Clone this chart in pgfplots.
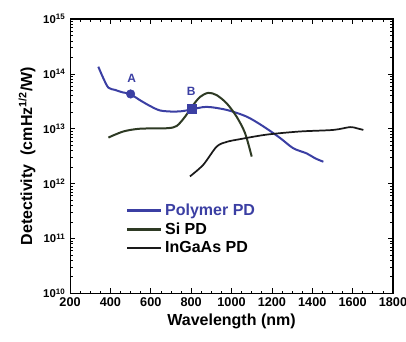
\documentclass[border=0pt]{standalone}
\usepackage{pgfplots}
\pgfplotsset{compat=1.18}
\usepackage{fontspec}
\setmainfont{Liberation Sans}
\definecolor{polyblue}{HTML}{3B3FA3}
\definecolor{sigreen}{HTML}{2E3A24}
\definecolor{ingaas}{HTML}{1A1A1A}
\begin{document}
\begin{tikzpicture}
\begin{axis}[
  scale only axis,
  width=242pt, height=205.5pt,
  ymode=log,
  xmin=200, xmax=1800, ymin=1e10, ymax=1e15,
  xtick={200,400,...,1800},
  minor x tick num=3,
  ytick={1e10,1e11,1e12,1e13,1e14,1e15},
  yticklabels={10\textsuperscript{10},10\textsuperscript{11},10\textsuperscript{12},10\textsuperscript{13},10\textsuperscript{14},10\textsuperscript{15}},
  tick align=inside,
  tick style={black, line width=0.5pt},
  major tick length=4pt, minor tick length=2pt,
  axis line style={black, line width=0.8pt},
  /pgf/number format/assume math mode=true,
  /pgf/number format/1000 sep={},
  xticklabel style={font=\bfseries\fontsize{9.5}{10}\selectfont},
  yticklabel style={font=\bfseries\fontsize{8.5}{9}\selectfont},
  xlabel={\textbf{Wavelength (nm)}},
  ylabel={\textbf{Detectivity\ \ (cmHz\textsuperscript{1/2}/W)}},
  label style={font=\fontsize{12}{14}\selectfont},
  xlabel style={yshift=2pt},
  ylabel style={yshift=-1pt},
  legend style={draw=none, fill=none, at={(axis cs:470,4.2e10)}, anchor=south west,
    font=\bfseries\fontsize{12}{13}\selectfont, row sep=0pt, inner sep=1pt},
  legend cell align=left,
  legend image code/.code={\draw[#1, line width=1.6pt] (0cm,0cm) -- (0.9cm,0cm);},
]
\addplot[polyblue, line width=1.5pt, smooth] coordinates {
(340,1.35e14) (365,8.3e13) (390,5.6e13) (423,5.1e13) (460,4.6e13) (497,4.3e13)
(547,3.3e13) (596,2.6e13) (646,2.15e13) (712,2.05e13) (760,2.1e13) (803,2.25e13)
(877,2.5e13) (976,2.2e13) (1075,1.66e13) (1158,1.1e13) (1240,6.8e12) (1306,4.4e12)
(1372,3.55e12) (1413,2.9e12) (1455,2.5e12)};
\addlegendentry{\textcolor{polyblue}{Polymer PD}}
\addplot[sigreen, line width=1.5pt, smooth] coordinates {
(390,6.9e12) (464,8.9e12) (547,1.0e13) (679,1.02e13) (728,1.12e13) (770,1.66e13)
(803,2.5e13) (844,3.8e13) (885,4.5e13) (926,4.1e13) (976,2.9e13) (1025,1.66e13)
(1067,8.3e12) (1100,3.1e12)};
\addlegendentry{Si PD}
\addplot[ingaas, line width=1.3pt, smooth] coordinates {
(794,1.35e12) (860,2.2e12) (926,4.7e12) (976,5.75e12) (1042,6.45e12) (1174,7.8e12)
(1339,8.9e12) (1504,9.5e12) (1587,1.07e13) (1620,1.02e13) (1653,9.5e12)};
\addlegendentry{InGaAs PD}
\addplot[only marks, mark=*, mark size=3.2pt, polyblue, forget plot] coordinates {(500,4.3e13)};
\addplot[only marks, mark=square*, mark size=3.2pt, polyblue, forget plot] coordinates {(803,2.3e13)};
\node[font=\bfseries\fontsize{9}{10}\selectfont, text=polyblue] at (axis cs:505,8.2e13) {A};
\node[font=\bfseries\fontsize{9}{10}\selectfont, text=polyblue] at (axis cs:800,4.8e13) {B};
\end{axis}
\pgfresetboundingbox
\path ([xshift=-52.5pt,yshift=-36pt]current axis.south west) rectangle ([xshift=9.75pt,yshift=14.25pt]current axis.north east);
\end{tikzpicture}
\end{document}
